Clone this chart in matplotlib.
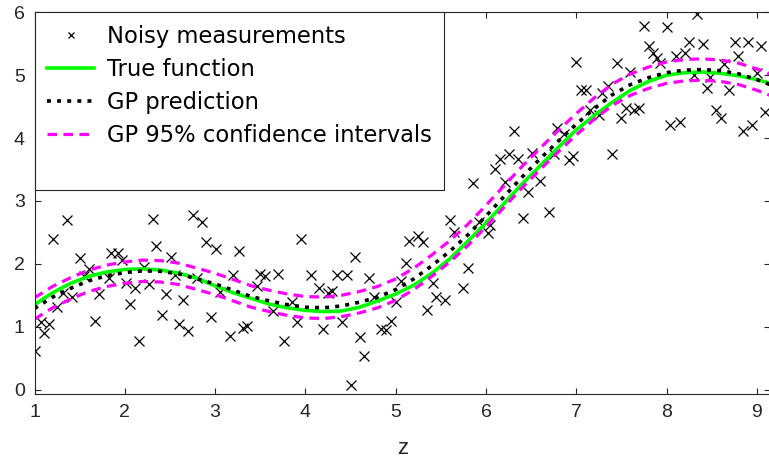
import matplotlib
matplotlib.use("Agg")
import matplotlib.pyplot as plt
from matplotlib.lines import Line2D
import numpy as np

plt.rcParams['font.family'] = ['Liberation Sans', 'DejaVu Sans']

# ---- data ----
meas_z = [1.01, 1.07, 1.11, 1.16, 1.21, 1.36, 1.25, 1.32, 1.41, 1.50, 1.55, 1.60, 1.67, 1.71,
          1.85, 1.92, 1.97, 1.82, 2.01, 2.06, 2.11, 2.16, 2.21, 2.27, 2.31, 2.35, 2.41, 2.46,
          2.51, 2.56, 2.60, 2.65, 2.70, 2.76, 2.86, 2.90, 2.80, 2.95, 3.01, 3.05, 3.16, 3.20,
          3.26, 3.31, 3.35, 3.46, 3.50, 3.55, 3.70, 3.64, 3.76, 3.85, 3.91, 3.95, 4.06, 4.15,
          4.25, 4.30, 4.20, 4.35, 4.46, 4.40, 4.55, 4.51, 4.60, 4.65, 4.70, 4.76, 4.84, 4.89,
          4.95, 5.00, 5.06, 5.11, 5.15, 5.25, 5.30, 5.35, 5.41, 5.45, 5.55, 5.60, 5.65, 5.75,
          5.80, 5.86, 5.92, 6.02, 6.05, 6.10, 6.16, 6.21, 6.25, 6.31, 6.36, 6.41, 6.46, 6.51,
          6.60, 6.70, 6.75, 6.79, 6.86, 6.92, 6.96, 7.00, 7.05, 7.11, 7.15, 7.25, 7.28, 7.35,
          7.40, 7.45, 7.50, 7.55, 7.64, 7.60, 7.70, 7.75, 7.80, 7.85, 7.89, 7.93, 8.01, 8.04,
          8.11, 8.15, 8.20, 8.25, 8.30, 8.34, 8.40, 8.45, 8.48, 8.55, 8.60, 8.64, 8.69, 8.76,
          8.79, 8.85, 8.90, 8.95, 9.00, 9.05, 9.09]
meas_y = [0.62, 1.08, 0.90, 1.05, 2.39, 2.70, 1.32, 1.53, 1.48, 2.09, 1.80, 1.91, 1.09, 1.52,
          2.17, 2.17, 2.06, 1.78, 1.69, 1.36, 1.61, 0.78, 1.95, 1.68, 2.72, 2.29, 1.19, 1.52,
          2.11, 1.83, 1.05, 1.43, 0.93, 2.77, 2.66, 2.35, 1.78, 1.15, 2.24, 1.55, 0.86, 1.83,
          2.21, 0.98, 1.01, 1.65, 1.84, 1.80, 1.84, 1.25, 0.78, 1.40, 1.07, 2.40, 1.83, 1.62,
          1.54, 1.57, 0.97, 1.83, 1.82, 1.07, 2.11, 0.07, 0.83, 0.54, 1.77, 1.47, 0.97, 0.95,
          1.09, 1.40, 1.73, 2.01, 2.37, 2.44, 2.35, 1.27, 1.69, 1.48, 1.43, 2.69, 2.51, 1.62,
          1.93, 3.28, 2.66, 2.49, 2.61, 3.51, 3.66, 3.30, 3.75, 4.12, 3.67, 2.73, 3.15, 3.76,
          3.31, 2.83, 3.74, 4.16, 4.06, 3.65, 3.71, 5.21, 4.77, 4.76, 4.45, 4.37, 4.71, 4.82,
          3.74, 5.19, 4.32, 4.48, 4.45, 5.05, 4.48, 5.79, 5.46, 5.36, 5.28, 5.19, 5.77, 4.20,
          5.30, 4.26, 5.35, 5.53, 5.00, 5.98, 5.50, 4.80, 4.97, 4.44, 4.32, 5.17, 4.76, 5.53,
          5.31, 4.11, 5.53, 4.20, 5.03, 5.47, 4.42]

curve_z = [1.0, 1.2, 1.4, 1.6, 1.8, 2.0, 2.2, 2.4, 2.6, 2.8, 3.0, 3.2, 3.4, 3.6, 3.8, 4.0,
           4.2, 4.4, 4.6, 4.8, 5.0, 5.2, 5.4, 5.6, 5.8, 6.0, 6.2, 6.4, 6.6, 6.8, 7.0, 7.2,
           7.4, 7.6, 7.8, 8.0, 8.2, 8.4, 8.6, 8.8, 9.0, 9.2]
true_f = [1.35, 1.54, 1.69, 1.80, 1.87, 1.91, 1.92, 1.90, 1.85, 1.77, 1.65, 1.54, 1.45, 1.36,
          1.30, 1.26, 1.24, 1.25, 1.31, 1.41, 1.52, 1.66, 1.85, 2.08, 2.36, 2.65, 2.96, 3.27,
          3.56, 3.85, 4.13, 4.36, 4.57, 4.76, 4.90, 5.00, 5.04, 5.05, 5.03, 4.99, 4.93, 4.85]
gp_mean = [1.29, 1.47, 1.61, 1.73, 1.81, 1.86, 1.89, 1.88, 1.84, 1.76, 1.68, 1.58, 1.48, 1.41,
           1.35, 1.31, 1.30, 1.33, 1.39, 1.47, 1.59, 1.76, 1.97, 2.20, 2.46, 2.76, 3.07, 3.38,
           3.67, 3.95, 4.22, 4.47, 4.69, 4.85, 4.96, 5.04, 5.08, 5.09, 5.07, 5.02, 4.93, 4.82]
gp_upper = [1.46, 1.64, 1.78, 1.90, 1.98, 2.03, 2.06, 2.05, 2.01, 1.93, 1.85, 1.75, 1.65, 1.58,
            1.52, 1.48, 1.47, 1.50, 1.56, 1.64, 1.76, 1.93, 2.14, 2.37, 2.63, 2.93, 3.24, 3.55,
            3.84, 4.12, 4.39, 4.64, 4.86, 5.02, 5.13, 5.21, 5.25, 5.26, 5.24, 5.19, 5.10, 4.99]
gp_lower = [1.12, 1.30, 1.44, 1.56, 1.64, 1.69, 1.72, 1.71, 1.67, 1.59, 1.51, 1.41, 1.31, 1.24,
            1.18, 1.14, 1.13, 1.16, 1.22, 1.30, 1.42, 1.59, 1.80, 2.03, 2.29, 2.59, 2.90, 3.21,
            3.50, 3.78, 4.05, 4.30, 4.52, 4.68, 4.79, 4.87, 4.91, 4.92, 4.90, 4.85, 4.76, 4.65]

x_ticks = [1, 2, 3, 4, 5, 6, 7, 8, 9]
y_ticks = [0, 1, 2, 3, 4, 5, 6]
labels = ['Noisy measurements', 'True function', 'GP prediction',
          'GP 95% confidence intervals']

# ---- figure ----
W, H = 769, 468
fig = plt.figure(figsize=(W / 100, H / 100), dpi=100)
ax_l = 34.5 / W
ax_r = 770.4 / W
ax_b = (H - 394.3) / H
ax_t = (H - 12.3) / H
ax = fig.add_axes([ax_l, ax_b, ax_r - ax_l, ax_t - ax_b])

dark = '#262626'
ax.plot(meas_z, meas_y, linestyle='none', marker='x', color='black',
        markersize=6.5, markeredgewidth=0.9, label=labels[0])
ax.plot(curve_z, true_f, color='#00ff00', lw=2.6, label=labels[1])
ax.plot(curve_z, gp_mean, color='black', lw=2.6, linestyle=(0, (1.1, 1.7)),
        label=labels[2])
ax.plot(curve_z, gp_upper, color='#ff00ff', lw=2.3, linestyle=(0, (3, 2)),
        label=labels[3])
ax.plot(curve_z, gp_lower, color='#ff00ff', lw=2.3, linestyle=(0, (3, 2)))

ax.set_xlim(1, 9.15)
ax.set_ylim(-0.075, 6)
ax.set_xticks(x_ticks)
ax.set_yticks(y_ticks)
ax.tick_params(direction='in', length=4, width=0.8, colors=dark, labelsize=14,
               top=True, right=True, pad=7)
for s in ax.spines.values():
    s.set_color(dark)
    s.set_linewidth(0.8)
ax.set_xlabel('z', fontsize=16, color=dark, labelpad=12)

handles, labs = ax.get_legend_handles_labels()
handles.append(Line2D([], [], linestyle='none'))
labs.append(' ')
leg = ax.legend(handles, labs, loc='upper left', borderaxespad=0,
                prop={'family': ['DejaVu Sans'], 'size': 16.3},
                fancybox=False, framealpha=1, edgecolor=dark, handlelength=2.1,
                handletextpad=0.55, labelspacing=0.45, markerscale=0.6,
                borderpad=0.55)
leg.get_texts()[-1].set_fontsize(12)
leg.get_frame().set_linewidth(0.8)

fig.savefig('out.png', dpi=100)
